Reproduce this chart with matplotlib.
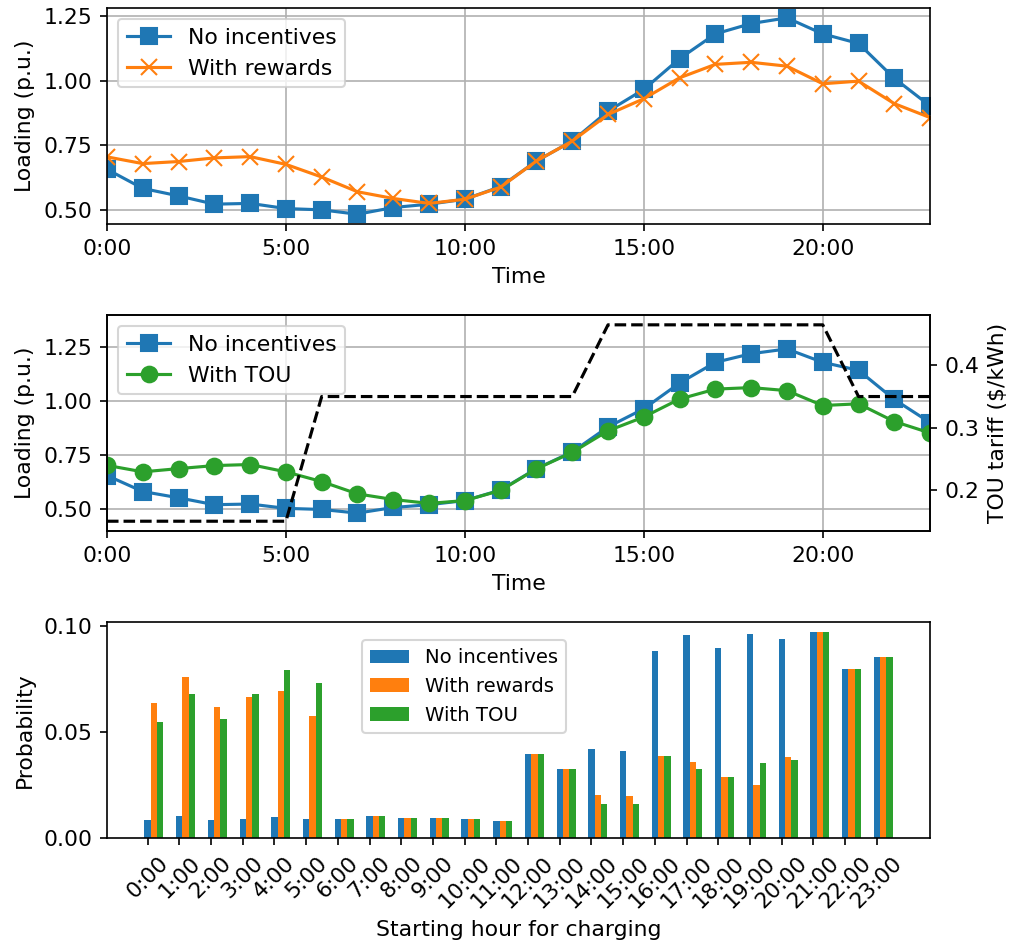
import matplotlib
matplotlib.use('Agg')
import matplotlib.pyplot as plt
import numpy as np

plt.rcParams['font.size'] = 10.5

hours = np.arange(24)
time_ticks = [0, 5, 10, 15, 20]
time_labels = ['0:00', '5:00', '10:00', '15:00', '20:00']
load_ticks = [0.5, 0.75, 1.0, 1.25]
hour_labels = ['%d:00' % h for h in hours]

# transformer loading (p.u.)
load_none = [0.657, 0.583, 0.554, 0.522, 0.525, 0.505, 0.500, 0.483, 0.509, 0.522, 0.541, 0.590,
             0.689, 0.766, 0.882, 0.966, 1.085, 1.181, 1.221, 1.243, 1.181, 1.144, 1.009, 0.902]
load_rewards = [0.705, 0.679, 0.687, 0.701, 0.706, 0.676, 0.627, 0.570, 0.544, 0.525, 0.541, 0.588,
                0.689, 0.766, 0.869, 0.930, 1.011, 1.063, 1.071, 1.056, 0.988, 0.998, 0.911, 0.857]
load_tou = [0.704, 0.674, 0.689, 0.703, 0.708, 0.674, 0.629, 0.572, 0.546, 0.528, 0.541, 0.588,
            0.688, 0.764, 0.864, 0.928, 1.011, 1.057, 1.064, 1.050, 0.981, 0.989, 0.907, 0.854]

# TOU tariff ($/kWh)
tariff = [0.15, 0.15, 0.15, 0.15, 0.15, 0.15, 0.35, 0.35, 0.35, 0.35, 0.35, 0.35,
          0.35, 0.35, 0.465, 0.465, 0.465, 0.465, 0.465, 0.465, 0.465, 0.35, 0.35, 0.35]

# probability of starting hour
prob_none = [0.0086, 0.0105, 0.0086, 0.0091, 0.0101, 0.0091, 0.0091, 0.0105, 0.0096, 0.0096, 0.0091, 0.0082,
             0.0398, 0.0327, 0.0422, 0.0412, 0.0880, 0.0955, 0.0898, 0.0960, 0.0936, 0.0970, 0.0795, 0.0852]
prob_rewards = [0.0638, 0.0757, 0.0620, 0.0663, 0.0691, 0.0573, 0.0091, 0.0105, 0.0096, 0.0096, 0.0091, 0.0082,
                0.0398, 0.0327, 0.0205, 0.0200, 0.0389, 0.0360, 0.0290, 0.0252, 0.0384, 0.0970, 0.0795, 0.0852]
prob_tou = [0.0548, 0.0677, 0.0559, 0.0677, 0.0790, 0.0729, 0.0091, 0.0105, 0.0096, 0.0096, 0.0091, 0.0082,
            0.0398, 0.0327, 0.0162, 0.0162, 0.0389, 0.0327, 0.0290, 0.0356, 0.0370, 0.0970, 0.0795, 0.0852]

fig = plt.figure(figsize=(1011 / 150, 945 / 150), dpi=150)
fig.subplots_adjust(left=0.1058, right=0.920, top=0.9915, bottom=0.1132, hspace=0.421)

# top: rewards
ax1 = fig.add_subplot(3, 1, 1)
ax1.plot(hours, load_none, color='C0', marker='s', ms=7.5, label='No incentives')
ax1.plot(hours, load_rewards, color='C1', marker='x', ms=7.5, label='With rewards')
ax1.set_xlim(0, 23)
ax1.set_xticks(time_ticks)
ax1.set_xticklabels(time_labels)
ax1.set_yticks(load_ticks)
ax1.set_xlabel('Time')
ax1.set_ylabel('Loading (p.u.)')
ax1.grid(True)
ax1.legend(loc='upper left')

# middle: TOU
ax2 = fig.add_subplot(3, 1, 2)
ax2.plot(hours, load_none, color='C0', marker='s', ms=7.5, label='No incentives')
ax2.plot(hours, load_tou, color='C2', marker='o', ms=7.5, label='With TOU')
ax2.set_xlim(0, 23)
ax2.set_ylim(0.4, 1.4)
ax2.set_xticks(time_ticks)
ax2.set_xticklabels(time_labels)
ax2.set_yticks(load_ticks)
ax2.set_xlabel('Time')
ax2.set_ylabel('Loading (p.u.)')
ax2.grid(True)
ax2.legend(loc='upper left')
ax2r = ax2.twinx()
ax2r.plot(hours, tariff, 'k--')
ax2r.set_ylabel(r'TOU tariff (\$/kWh)')
ax2r.set_yticks([0.2, 0.3, 0.4])

# bottom: starting hour distribution
ax3 = fig.add_subplot(3, 1, 3)
w = 0.2
ax3.bar(hours, prob_none, width=w, color='C0', label='No incentives')
ax3.bar(hours + w, prob_rewards, width=w, color='C1', label='With rewards')
ax3.bar(hours + 2 * w, prob_tou, width=w, color='C2', label='With TOU')
ax3.set_xticks(hours)
ax3.set_xticklabels(hour_labels, rotation=45)
ax3.set_yticks([0.0, 0.05, 0.10])
ax3.set_xlabel('Starting hour for charging')
ax3.set_ylabel('Probability')
ax3.legend(loc='upper left', bbox_to_anchor=(0.298, 0.96), fontsize=9.4)

fig.savefig('out.png', dpi=150)
